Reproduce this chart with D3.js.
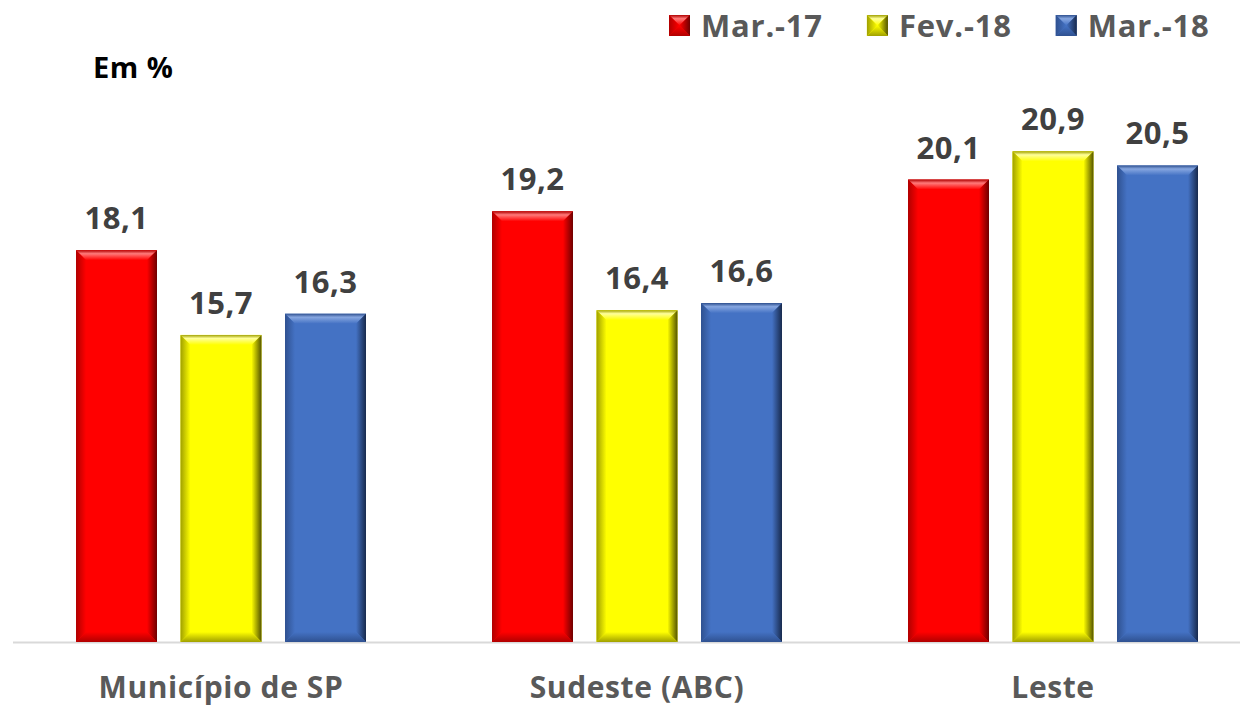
<!DOCTYPE html>
<html>
<head>
<meta charset="utf-8">
<script src="https://cdn.jsdelivr.net/npm/d3@7"></script>
<style>
  html, body { margin: 0; padding: 0; background: #fff; }
  svg { display: block; }
  text { font-family: "Open Sans", "Noto Sans", sans-serif; font-weight: 700; }
</style>
</head>
<body>
<svg id="chart" width="1240" height="707"></svg>
<script>
const categories = ["Município de SP", "Sudeste (ABC)", "Leste"];
const seriesNames = ["Mar.-17", "Fev.-18", "Mar.-18"];
const mar17 = [18.1, 19.2, 20.1];
const fev18 = [15.7, 16.4, 20.9];
const mar18 = [16.3, 16.6, 20.5];
const seriesValues = [mar17, fev18, mar18];
const yDomain = [7, 22];

const palette = [
  { base: "#ff0000", light: "#ff7a7a", dark: "#6e0000", mid: "#b00000" },
  { base: "#ffff00", light: "#ffff9a", dark: "#545400", mid: "#a0a000" },
  { base: "#4472c4", light: "#86a6e0", dark: "#182a4d", mid: "#2f5190" }
];

const svg = d3.select("#chart");
const defs = svg.append("defs");

palette.forEach((c, i) => {
  const top = defs.append("linearGradient").attr("id", "top" + i).attr("x1", 0).attr("y1", 0).attr("x2", 0).attr("y2", 1);
  top.append("stop").attr("offset", "0%").attr("stop-color", c.mid);
  top.append("stop").attr("offset", "35%").attr("stop-color", c.light);
  top.append("stop").attr("offset", "100%").attr("stop-color", c.base);
  const right = defs.append("linearGradient").attr("id", "right" + i).attr("x1", 0).attr("y1", 0).attr("x2", 1).attr("y2", 0);
  right.append("stop").attr("offset", "0%").attr("stop-color", c.base);
  right.append("stop").attr("offset", "100%").attr("stop-color", c.dark);
  const bottom = defs.append("linearGradient").attr("id", "bottom" + i).attr("x1", 0).attr("y1", 0).attr("x2", 0).attr("y2", 1);
  bottom.append("stop").attr("offset", "0%").attr("stop-color", c.base);
  bottom.append("stop").attr("offset", "100%").attr("stop-color", c.mid);
  const left = defs.append("linearGradient").attr("id", "left" + i).attr("x1", 0).attr("y1", 0).attr("x2", 1).attr("y2", 0);
  left.append("stop").attr("offset", "0%").attr("stop-color", c.mid);
  left.append("stop").attr("offset", "100%").attr("stop-color", c.base);
});

const plot = { left: 13, right: 1261, top: 112.5, bottom: 642 };

const x0 = d3.scaleBand().domain(categories).range([plot.left, plot.right]).paddingInner(0).paddingOuter(0);
const x1 = d3.scaleBand().domain(seriesNames).range([0, x0.bandwidth()]).paddingInner(0.225).paddingOuter(0.603);
const y = d3.scaleLinear().domain(yDomain).range([plot.bottom, plot.top]);

function bevel(g, w, h, i, b) {
  g.append("rect").attr("width", w).attr("height", h).attr("fill", palette[i].base);
  g.append("polygon").attr("points", [[0,0],[w,0],[w-b,b],[b,b]].join(" ")).attr("fill", `url(#top${i})`);
  g.append("polygon").attr("points", [[0,0],[b,b],[b,h-b],[0,h]].join(" ")).attr("fill", `url(#left${i})`);
  g.append("polygon").attr("points", [[w,0],[w,h],[w-b,h-b],[w-b,b]].join(" ")).attr("fill", `url(#right${i})`);
  g.append("polygon").attr("points", [[0,h],[w,h],[w-b,h-b],[b,h-b]].join(" ")).attr("fill", `url(#bottom${i})`);
}

// axis line
svg.append("line")
  .attr("x1", plot.left).attr("x2", plot.right)
  .attr("y1", plot.bottom + 0.5).attr("y2", plot.bottom + 0.5)
  .attr("stroke", "#d9d9d9").attr("stroke-width", 2);

// bars
categories.forEach((cat, ci) => {
  seriesNames.forEach((s, si) => {
    const v = seriesValues[si][ci];
    const bx = x0(cat) + x1(s);
    const by = y(v);
    const w = x1.bandwidth();
    const h = y(yDomain[0]) - by;
    const g = svg.append("g").attr("transform", `translate(${bx},${by})`);
    bevel(g, w, h, si, 10);
    svg.append("text")
      .attr("x", bx + w / 2)
      .attr("y", by - 21)
      .attr("text-anchor", "middle")
      .attr("font-size", 31)
      .attr("letter-spacing", 0.5)
      .attr("fill", "#404040")
      .text(d3.format(".1f")(v).replace(".", ","));
  });
});

// category axis labels
const xAxis = d3.axisBottom(x0).tickSize(0).tickPadding(0);
const ax = svg.append("g").attr("transform", `translate(0,${plot.bottom})`).call(xAxis);
ax.select(".domain").remove();
ax.selectAll("text")
  .attr("y", 56)
  .attr("dy", null)
  .attr("font-size", 30)
  .attr("letter-spacing", 0.6)
  .attr("fill", "#595959")
  .style("font-family", "'Open Sans', sans-serif")
  .style("font-weight", 700);

// unit label
svg.append("text").attr("x", 93).attr("y", 78).attr("font-size", 29).attr("letter-spacing", 0.5).attr("fill", "#000").text("Em %");

// legend
let lx = 669;
seriesNames.forEach((s, i) => {
  const g = svg.append("g").attr("transform", `translate(${lx},15)`);
  bevel(g, 21, 21, i, 10.5);
  const t = svg.append("text").attr("x", lx + 32).attr("y", 37).attr("font-size", 31)
    .attr("letter-spacing", 0.8).attr("fill", "#595959").text(s);
  lx = lx + 32 + t.node().getComputedTextLength() + 44;
});
</script>
</body>
</html>
